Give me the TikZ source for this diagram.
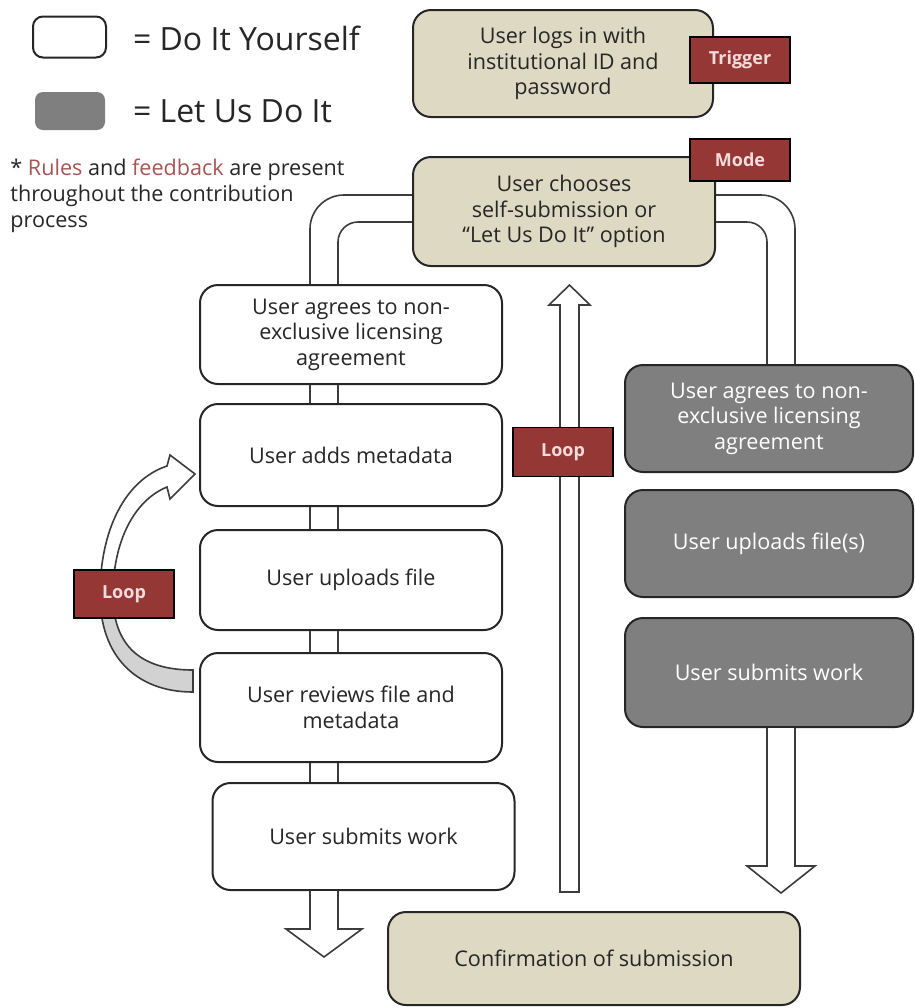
\documentclass[tikz,border=0pt]{standalone}
\usepackage{fontspec}
\setmainfont{Open Sans}
\definecolor{tagred}{HTML}{953735}
\definecolor{tagpink}{HTML}{F2DCDB}
\definecolor{beige}{HTML}{DDD9C3}
\definecolor{usgray}{HTML}{7F7F7F}
\definecolor{edge}{HTML}{262626}
\tikzset{
  stepbox/.style={draw=edge, line width=1pt, rounded corners=9pt, align=center,
    inner sep=0pt, text=edge, font=\fontsize{10.8}{12.8}\selectfont, minimum width=151pt},
  diy/.style={stepbox, fill=white},
  lud/.style={stepbox, fill=usgray, text=white, minimum width=144pt},
  sysbox/.style={stepbox, fill=beige},
  tag/.style={draw=black, line width=0.6pt, fill=tagred, text=tagpink, inner sep=0pt,
    font=\fontsize{9}{11}\selectfont\bfseries, minimum width=50pt},
  pipe/.style={draw=edge!90, line width=0.8pt},
  blockarrow/.style={pipe, fill=white, line join=miter},
  loopband/.style={insert path={(193,692) .. controls (135,692) and (100,655) .. (100,595)
    .. controls (100,530) and (125,480) .. (167,466) -- (170,455) -- (195,474) -- (170,499)
    -- (167,487) .. controls (135,500) and (113,540) .. (113,595)
    .. controls (113,645) and (140,670) .. (193,670) -- cycle}}
}
\begin{document}
\begin{tikzpicture}[x=0.5pt, y=-0.5pt]
\useasboundingbox (0,0) rectangle (915,1008);

% legend
\node [diy, minimum width=36.5pt, minimum height=20.5pt, rounded corners=5pt] (diykey) at (69.5,37) {};
\node [anchor=west, text=edge, font=\fontsize{16}{18}\selectfont] (diytxt) at (126,38) {= Do It Yourself};
\node [lud, draw=none, minimum width=35pt, minimum height=19pt, rounded corners=4pt] (ludkey) at (70,111) {};
\node [anchor=west, text=edge, font=\fontsize{16}{18}\selectfont] (ludtxt) at (126,111) {= Let Us Do It};
\node [anchor=north west, align=left, inner sep=0pt, text=edge, font=\fontsize{10.8}{13}\selectfont] (note) at (10,159)
  {* \textcolor{tagred!85}{Rules} and \textcolor{tagred!85}{feedback} are present\\
   throughout the contribution\\process};

% top of the process
\node [sysbox, minimum width=150pt, minimum height=53.5pt] (login) at (563,63.5)
  {User logs in with\\institutional ID and\\password};
\node [sysbox, minimum height=54.5pt] (choose) at (564,211.5)
  {User chooses\\self-submission or\\``Let Us Do It'' option};

% do it yourself
\node [diy, minimum height=49.5pt] (b1) at (351,334.5) {User agrees to non-\\exclusive licensing\\agreement};
\node [diy, minimum height=51pt] (b2) at (351,455) {User adds metadata};
\node [diy, minimum height=50pt] (b3) at (351,580) {User uploads file};
\node [diy, minimum height=54.5pt] (b4) at (351,707.5) {User reviews file and\\metadata};
\node [diy, minimum height=53.5pt] (b5) at (363.5,836.5) {User submits work};

% let us do it
\node [lud, minimum height=53.5pt] (g1) at (769,418.5) {User agrees to non-\\exclusive licensing\\agreement};
\node [lud, minimum height=53.5pt] (g2) at (769,543.5) {User uploads file(s)};
\node [lud, minimum height=54.5pt] (g3) at (769,672.5) {User submits work};

\node [sysbox, minimum width=206pt, minimum height=46.5pt] (confirm) at (594,958.5) {Confirmation of submission};

% pipes
\coordinate (pipeL) at (310,0);
\coordinate (pipeR) at (338,0);
\coordinate (chanL) at (767,0);
\coordinate (chanR) at (795,0);
\coordinate (outerY) at (0,195);
\coordinate (innerY) at (0,222);
\coordinate (loopfoot) at (569.5,892);

\draw [pipe, rounded corners=17pt] (choose.west |- outerY) -| (b1.north -| pipeL);
\draw [pipe, rounded corners=10pt] (choose.west |- innerY) -| (b1.north -| pipeR);
\draw [pipe, rounded corners=17pt] (choose.east |- outerY) -| (g1.north -| chanR);
\draw [pipe, rounded corners=10pt] (choose.east |- innerY) -| (g1.north -| chanL);

\foreach \a/\b in {b1/b2, b2/b3, b3/b4, b4/b5}
  \draw [pipe] (\a.south -| pipeL) -- (\b.north -| pipeL) (\a.south -| pipeR) -- (\b.north -| pipeR);

\draw [blockarrow] (b5.south -| pipeL) -- ++(0,38) -- ++(-24,0) -- ++(38,28) -- ++(38,-28) -- ++(-24,0) -- (b5.south -| pipeR);
\draw [blockarrow] (g3.south -| chanL) -- ++(0,138) -- ++(-20,0) -- ++(34,27) -- ++(34,-27) -- ++(-20,0) -- (g3.south -| chanR);
\draw [blockarrow] (loopfoot) ++(-9.5,0) -- ++(0,-587) -- ++(-11,0) -- ++(20.5,-20) -- ++(20.5,20) -- ++(-11,0) -- ++(0,587) -- cycle;

% curved loop
\path [fill=white, loopband];
\begin{scope}
  \clip (0,600) rectangle (200,700);
  \path [fill=gray!35, loopband];
\end{scope}
\path [pipe, loopband];

% tags
\node [tag, minimum height=23pt] (trigger) at (740,60) {Trigger};
\node [tag, minimum height=21pt] (mode) at (740,160) {Mode};
\node [tag, minimum height=24.5pt] (loopmid) at (563,452) {Loop};
\node [tag, minimum height=24pt] (loopleft) at (124,594) {Loop};

\end{tikzpicture}
\end{document}
